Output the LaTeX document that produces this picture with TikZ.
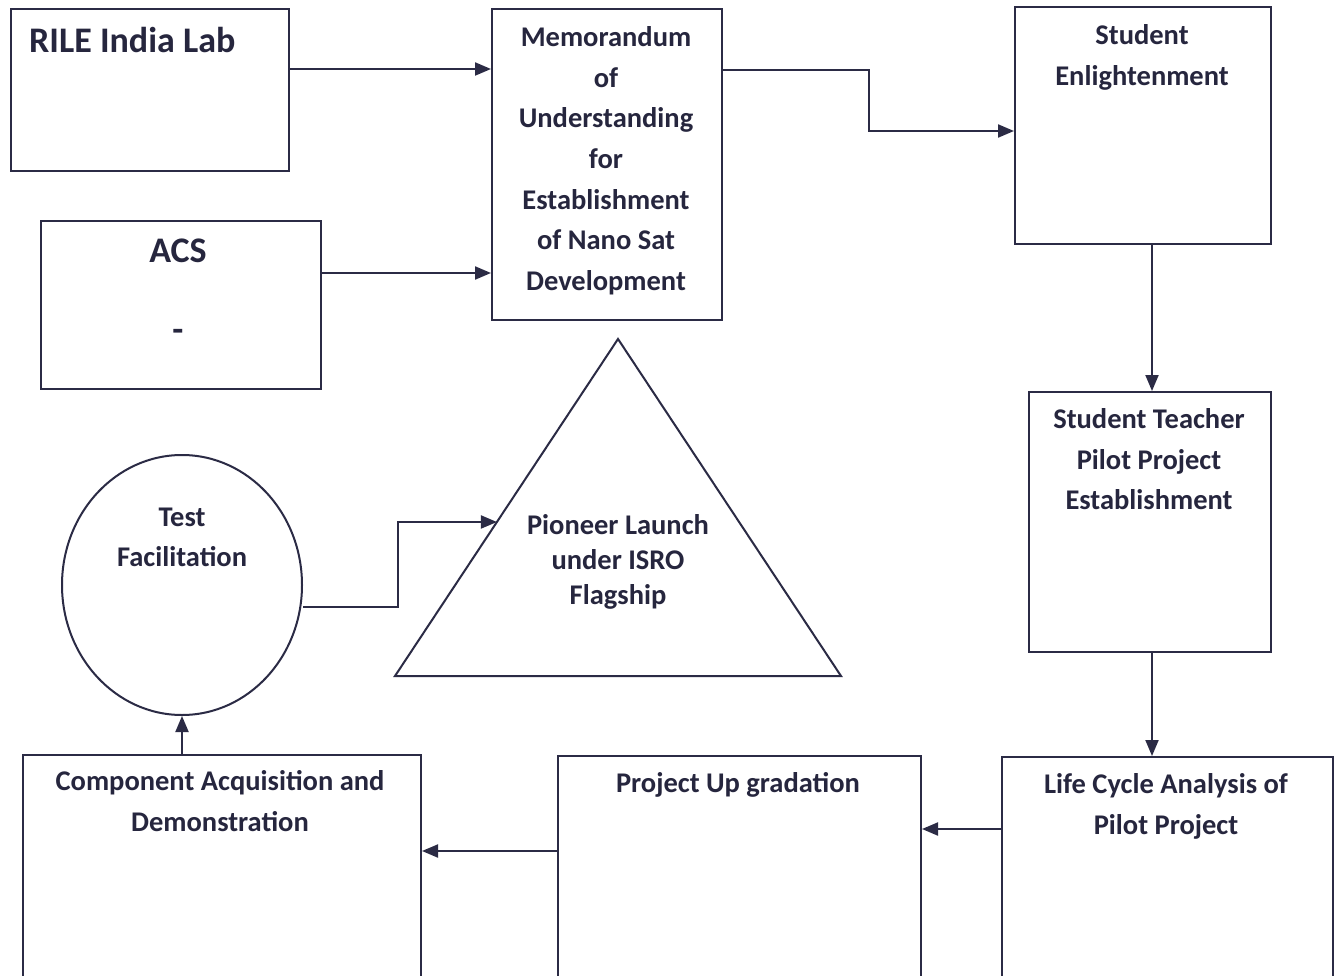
\documentclass[tikz,border=0pt]{standalone}
\usepackage{fontspec}
\setmainfont{Carlito}
\usetikzlibrary{arrows.meta,shapes.geometric,calc}
\definecolor{ink}{HTML}{2B2B45}
\definecolor{txt}{HTML}{26263E}
\begin{document}
\begin{tikzpicture}[x=1pt,y=-1pt,
  box/.style={draw=ink,line width=2pt,rectangle,inner sep=0pt,anchor=north west},
  lbl/.style={text=txt,font=\bfseries\fontsize{28.5}{40.6}\selectfont,align=center,inner sep=0pt,anchor=north},
  arr/.style={draw=ink,line width=2pt,-{Triangle[length=16pt,width=13pt]}},
  ln/.style={draw=ink,line width=2pt}]
\useasboundingbox[fill=white] (0,0) rectangle (1335,976);
% boxes
\node[box,minimum width=278pt,minimum height=162pt] (rile) at (10,8) {};
\node[box,minimum width=280pt,minimum height=168pt] (acs) at (40,220) {};
\node[box,minimum width=230pt,minimum height=311pt] (mou) at (491,8) {};
\node[box,minimum width=256pt,minimum height=237pt] (se) at (1014,6) {};
\node[box,minimum width=242pt,minimum height=260pt] (stp) at (1028,391) {};
\node[box,minimum width=331pt,minimum height=225pt] (lca) at (1001,756) {};
\node[box,minimum width=363pt,minimum height=226pt] (pu) at (557,755) {};
\node[box,minimum width=398pt,minimum height=227pt] (comp) at (22,754) {};
\node[draw=ink,line width=2pt,ellipse,minimum width=240pt,minimum height=260pt,inner sep=0pt] (tf) at (182,585) {};
% triangle
\coordinate (tA) at (618,339);
\coordinate (tL) at (395,676);
\coordinate (tR) at (841,676);
\draw[ln,line join=miter] (tA) -- (tL) -- (tR) -- cycle;
\coordinate (tin) at ($(tA)!0.543!(tL)$);
% labels
\node[lbl,anchor=north west,font=\bfseries\fontsize{36}{40}\selectfont] (rilet) at (29,27.5) {RILE India Lab};
\node[lbl,font=\bfseries\fontsize{36}{39.75}\selectfont] (acst) at (178,238.5) {ACS\\ \\ -};
\node[lbl] (mout) at (606,26.5) {Memorandum\\of\\Understanding\\for\\Establishment\\of Nano Sat\\Development};
\node[lbl] (set) at (1142,24.5) {Student\\Enlightenment};
\node[lbl] (stpt) at (1149,408.5) {Student Teacher\\Pilot Project\\Establishment};
\node[lbl] (lcat) at (1166,773.5) {Life Cycle Analysis of\\Pilot Project};
\node[lbl] (put) at (738,772.5) {Project Up gradation};
\node[lbl] (compt) at (220,770.5) {Component Acquisition and\\Demonstration};
\node[lbl] (tft) at (182,507.5) {Test\\Facilitation};
\node[lbl,font=\bfseries\fontsize{28.5}{35}\selectfont] (trit) at (618,514) {Pioneer Launch\\under ISRO\\Flagship};
% connectors
\coordinate (r1) at ([yshift=21pt]rile.east);
\draw[arr] (r1) -- (r1 -| mou.west);
\coordinate (a1) at ([yshift=32pt]acs.east);
\draw[arr] (a1) -- (a1 -| mou.west);
\coordinate (m1) at ([yshift=94.5pt]mou.east);
\coordinate (s1) at ([yshift=-5.5pt]se.west);
\draw[arr] (m1) -- ++(146,0) |- (s1);
\coordinate (s2) at ([xshift=9pt]se.south);
\draw[arr] (s2) -- (s2 |- stp.north);
\coordinate (s3) at ([xshift=2pt]stp.south);
\draw[arr] (s3) -- (s3 |- lca.north);
\coordinate (l1) at ([yshift=40.5pt]lca.west);
\draw[arr] (l1) -- (l1 -| pu.east);
\coordinate (p1) at ([yshift=18pt]pu.west);
\draw[arr] (p1) -- (p1 -| comp.east);
\coordinate (c1) at ([xshift=-40pt]comp.north);
\draw[arr] (c1) -- (c1 |- tf.south);
\coordinate (f1) at ([yshift=-22pt]tf.east);
\draw[arr] (f1) -- ++(95,0) |- (tin);
\end{tikzpicture}
\end{document}
